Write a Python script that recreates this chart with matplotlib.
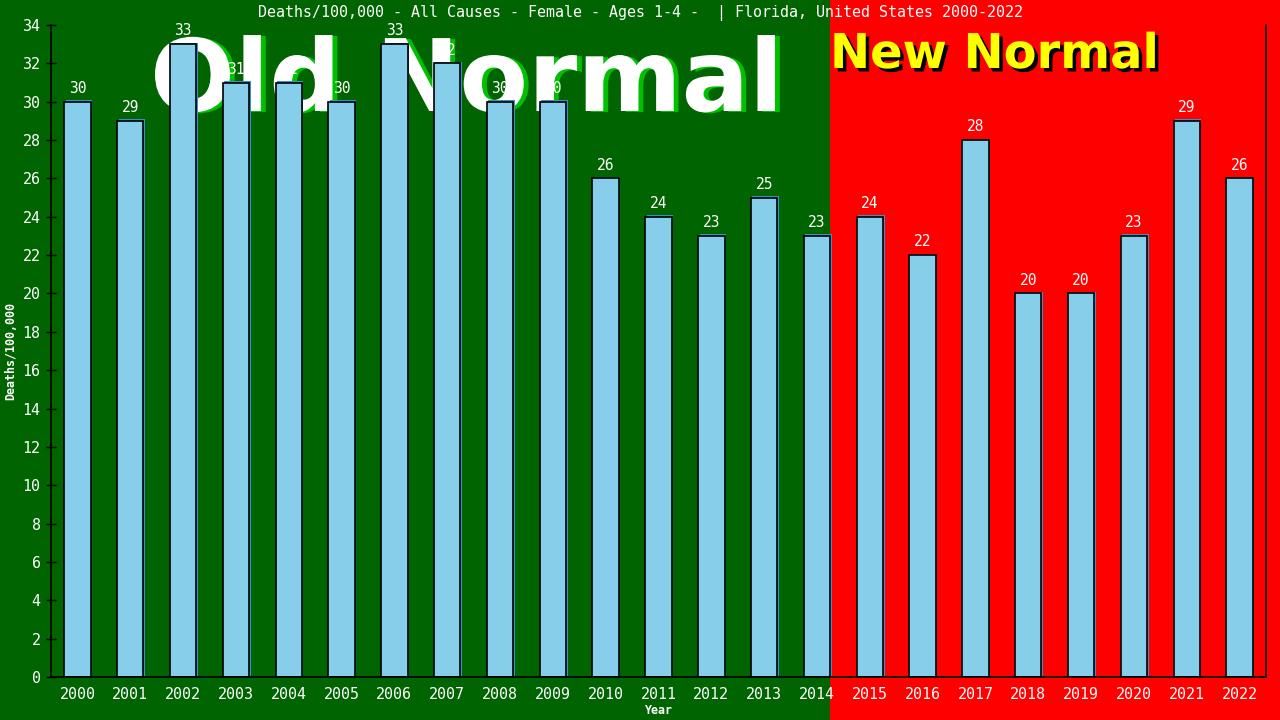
"""Deaths per 100,000, all causes, females aged 1-4, Florida 2000-2022.

Old normal / new normal split chart, written to out.png.
"""
import matplotlib

matplotlib.use("Agg")

import matplotlib.patheffects as pe
import matplotlib.pyplot as plt
from matplotlib.patches import Rectangle
from matplotlib.transforms import blended_transform_factory, offset_copy

years = [str(y) for y in range(2000, 2023)]
deaths_per_100k = [30, 29, 33, 31, 31, 30, 33, 32, 30, 30, 26, 24, 23, 25,
                   23, 24, 22, 28, 20, 20, 23, 29, 26]
y_ticks = list(range(0, 35, 2))
split_year = "2014"  # last "old normal" year

TITLE = "Deaths/100,000 - All Causes - Female - Ages 1-4 -  | Florida, United States 2000-2022"

GREEN = "#006400"
RED = "#ff0000"
BAR = "#87ceeb"
BAR_SHADOW = "#3d8fc9"
MONO = "DejaVu Sans Mono"
BAR_W = 0.5

fig = plt.figure(figsize=(12.8, 7.2), dpi=100, facecolor=RED)
ax = fig.add_axes([51 / 1280, 43 / 720, 1215 / 1280, 652 / 720])
ax.set_facecolor("none")

x = list(range(len(years)))

# ── background: green up to the right edge of the split-year bar ────────────
split_x = years.index(split_year) + BAR_W / 2
bg_tr = blended_transform_factory(ax.transData, fig.transFigure)
ax.add_patch(Rectangle((-20, 0), split_x + 20, 1, transform=bg_tr,
                       facecolor=GREEN, edgecolor="none", zorder=0, clip_on=False))

# ── big banner texts ────────────────────────────────────────────────────────
ax.text(150 / 1280, 1 - 111 / 720, "Old Normal", transform=fig.transFigure,
        fontsize=72, fontweight="bold", family="DejaVu Sans", color="white",
        ha="left", va="baseline", zorder=1.5, clip_on=False,
        path_effects=[pe.withSimplePatchShadow(offset=(3.5, -0.7),
                                               shadow_rgbFace="#00c000", alpha=1)])
ax.text(830 / 1280, 1 - 68 / 720, "New Normal", transform=fig.transFigure,
        fontsize=34.5, fontweight="bold", family="DejaVu Sans", color="#ffff00",
        ha="left", va="baseline", zorder=1.5, clip_on=False,
        path_effects=[pe.withSimplePatchShadow(offset=(2.5, -2.5),
                                               shadow_rgbFace="black", alpha=1)])

# ── bars with a small offset shadow ─────────────────────────────────────────
shadow_tr = offset_copy(ax.transData, fig=fig, x=1.5, y=1.5, units="dots")
ax.bar(x, deaths_per_100k, width=BAR_W, color=BAR_SHADOW, edgecolor="none",
       transform=shadow_tr, zorder=2)
ax.bar(x, deaths_per_100k, width=BAR_W, color=BAR, edgecolor="black",
       linewidth=1.2, zorder=2.1)

for xi, v in zip(x, deaths_per_100k):
    ax.annotate(str(v), (xi, v), xytext=(0, 9.5), textcoords="offset points",
                ha="center", va="center", color="white", family=MONO,
                fontsize=10.5, zorder=3)

# ── axes styling ────────────────────────────────────────────────────────────
ax.set_xlim(-0.5, len(years) - 0.5)
ax.set_ylim(0, 34)
ax.set_xticks(x)
ax.set_xticklabels(years)
ax.set_yticks(y_ticks)

ax.spines["top"].set_visible(False)
for side in ("left", "bottom", "right"):
    ax.spines[side].set_color("black")
    ax.spines[side].set_linewidth(1.2)

ax.tick_params(axis="y", direction="inout", length=7, width=1, color="black",
               labelcolor="white", labelsize=10.8, pad=4)
ax.tick_params(axis="x", length=0, labelcolor="white", labelsize=10.8, pad=7)
for lab in ax.get_xticklabels() + ax.get_yticklabels():
    lab.set_family(MONO)

ax.set_ylabel("Deaths/100,000", color="white", family=MONO, fontweight="bold",
              fontsize=8.4)
ax.yaxis.set_label_coords(-0.028, 0.5)
ax.set_xlabel("Year", color="white", family=MONO, fontweight="bold", fontsize=8.4)
ax.xaxis.set_label_coords(0.5, -0.041)

fig.text(0.5, 1 - 13 / 720, TITLE, ha="center", va="center", color="white",
         family=MONO, fontsize=10.8)

fig.savefig("out.png", dpi=100, facecolor=RED)
plt.close("all")
